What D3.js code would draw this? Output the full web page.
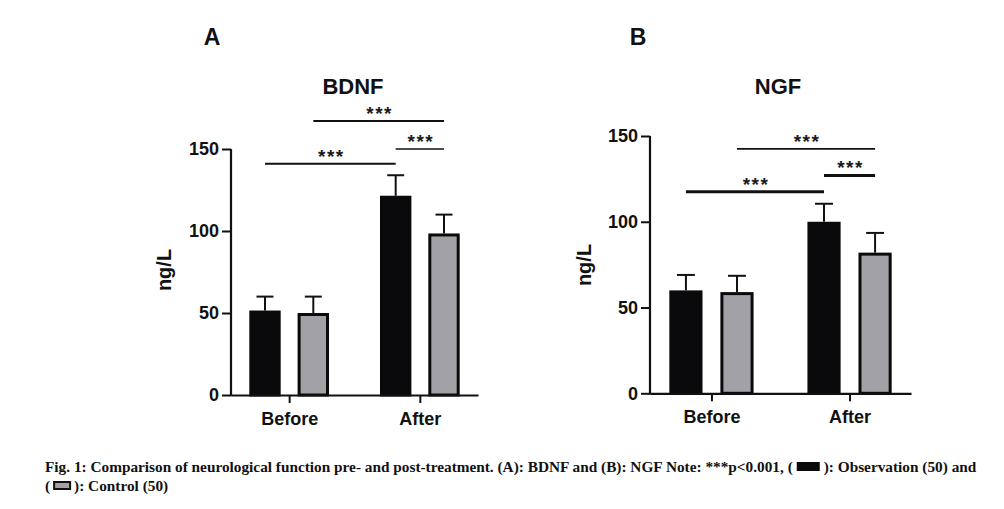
<!DOCTYPE html>
<html lang="en">
<head>
<meta charset="UTF-8">
<title>BDNF and NGF</title>
<script src="https://d3js.org/d3.v7.min.js"></script>
<style>
    body { margin: 0; background: #fff; }
    svg text { font-family: "Liberation Sans", Arial, sans-serif; font-weight: bold; }
    svg text.caption { font-family: "Liberation Serif", "Times New Roman", serif; }
</style>
</head>
<body>
<svg id="fig" width="1004" height="509"></svg>
<script>
// data
const categories = ["Before", "After"];
const groups = ["Observation", "Control"];
const yTicks = [0, 50, 100, 150];

const bdnfObs = [51.5, 121.5];
const bdnfObsSD = [8.5, 12.5];
const bdnfCtrl = [50, 98.5];
const bdnfCtrlSD = [10, 11.5];

const ngfObs = [60, 100];
const ngfObsSD = [9, 10.5];
const ngfCtrl = [59, 82];
const ngfCtrlSD = [9.5, 11.5];

// significance brackets: [category, group] -> [category, group] at a y value
const bdnfSig = [
    { from: ["Before", "Observation"], to: ["After", "Observation"], y: 141, w: 2 },
    { from: ["Before", "Control"], to: ["After", "Control"], y: 167, w: 2 },
    { from: ["After", "Observation"], to: ["After", "Control"], y: 150, w: 1.6 }
];
const ngfSig = [
    { from: ["Before", "Observation"], to: ["After", "Observation"], y: 117.5, w: 3 },
    { from: ["Before", "Control"], to: ["After", "Control"], y: 142.5, w: 1.8 },
    { from: ["After", "Observation"], to: ["After", "Control"], y: 127, w: 3 }
];

const fillColor = { Observation: "#0a0a0c", Control: "#a2a2a6" };

const svg = d3.select("#fig");

function drawPanel(p) {
    const g = svg.append("g");

    const x = d3.scalePoint().domain(categories).range([p.x0, p.x1]).padding(0.445);
    const groupW = x.step() * 0.61;
    const xs = d3.scaleBand().domain(groups).range([-groupW / 2, groupW / 2]).paddingInner(0.35);
    const y = d3.scaleLinear().domain([0, 150]).range([p.yBottom, p.yTop]);

    const rows = [];
    categories.forEach((c, i) => {
        rows.push({ cat: c, grp: "Observation", v: p.obs[i], sd: p.obsSD[i] });
        rows.push({ cat: c, grp: "Control", v: p.ctrl[i], sd: p.ctrlSD[i] });
    });
    const cx = (c, gr) => x(c) + xs(gr) + xs.bandwidth() / 2;

    // error bars (upper only)
    g.selectAll("line.err").data(rows).join("line")
        .attr("x1", d => cx(d.cat, d.grp)).attr("x2", d => cx(d.cat, d.grp))
        .attr("y1", d => y(d.v)).attr("y2", d => y(d.v + d.sd))
        .attr("stroke", "#111").attr("stroke-width", 2);
    g.selectAll("line.cap").data(rows).join("line")
        .attr("x1", d => cx(d.cat, d.grp) - xs.bandwidth() * 0.27)
        .attr("x2", d => cx(d.cat, d.grp) + xs.bandwidth() * 0.27)
        .attr("y1", d => y(d.v + d.sd)).attr("y2", d => y(d.v + d.sd))
        .attr("stroke", "#111").attr("stroke-width", 2);

    // bars
    g.selectAll("rect.bar").data(rows).join("rect")
        .attr("x", d => x(d.cat) + xs(d.grp) + 1.5)
        .attr("width", xs.bandwidth() - 3)
        .attr("y", d => y(d.v) + 1.5)
        .attr("height", d => y(0) - y(d.v) - 1.5)
        .attr("fill", d => fillColor[d.grp])
        .attr("stroke", "#0a0a0a").attr("stroke-width", 3);

    // axes
    const yAxis = g.append("g")
        .attr("transform", `translate(${p.x0},0)`)
        .call(d3.axisLeft(y).tickValues(yTicks).tickSize(9).tickPadding(3).tickSizeOuter(0));
    const xAxis = g.append("g")
        .attr("transform", `translate(0,${p.yBottom})`)
        .call(d3.axisBottom(x).tickSize(8).tickPadding(9).tickSizeOuter(0));
    [yAxis, xAxis].forEach(a => {
        a.select(".domain").attr("stroke", "#111").attr("stroke-width", 2.2);
        a.selectAll(".tick line").attr("stroke", "#111").attr("stroke-width", 2);
        a.selectAll(".tick text").attr("fill", "#111");
    });
    yAxis.selectAll(".tick text").attr("font-size", 18);
    xAxis.selectAll(".tick text").attr("font-size", 18);
    // close the corner of the two axis lines
    yAxis.select(".domain").attr("d", `M0,${y(150)}V${p.yBottom + 1.1}`);

    // significance brackets
    p.sig.forEach(s => {
        const xa = cx(s.from[0], s.from[1]);
        const xb = cx(s.to[0], s.to[1]);
        g.append("line")
            .attr("x1", xa).attr("x2", xb)
            .attr("y1", y(s.y)).attr("y2", y(s.y))
            .attr("stroke", "#111").attr("stroke-width", s.w);
        g.append("text")
            .attr("x", (xa + xb) / 2 + 1).attr("y", y(s.y) - 1)
            .attr("text-anchor", "middle")
            .attr("font-size", 19).attr("letter-spacing", 1.5)
            .attr("fill", "#1a1a1a")
            .text("***");
    });

    // titles and labels
    g.append("text").attr("x", p.letterX).attr("y", 45)
        .attr("text-anchor", "middle").attr("font-size", 23).attr("fill", "#111")
        .text(p.letter);
    g.append("text").attr("x", p.titleX).attr("y", 94)
        .attr("text-anchor", "middle").attr("font-size", 22).attr("fill", "#111")
        .text(p.title);
    g.append("text")
        .attr("transform", `translate(${p.ylabX},${p.ylabY}) rotate(-90)`)
        .attr("text-anchor", "middle").attr("font-size", 20).attr("fill", "#111")
        .text("ng/L");
}

drawPanel({
    letter: "A", letterX: 212, title: "BDNF", titleX: 353,
    x0: 231, x1: 478, yBottom: 395, yTop: 149,
    obs: bdnfObs, obsSD: bdnfObsSD, ctrl: bdnfCtrl, ctrlSD: bdnfCtrlSD,
    sig: bdnfSig, ylabX: 171, ylabY: 270
});
drawPanel({
    letter: "B", letterX: 638, title: "NGF", titleX: 778,
    x0: 650, x1: 911, yBottom: 393.3, yTop: 136,
    obs: ngfObs, obsSD: ngfObsSD, ctrl: ngfCtrl, ctrlSD: ngfCtrlSD,
    sig: ngfSig, ylabX: 591, ylabY: 265
});

// caption
const cap1a = "Fig. 1: Comparison of neurological function pre- and post-treatment. (A): BDNF and (B): NGF Note: ***p<0.001, (";
const cap1b = "): Observation (50) and";
const cap2a = "(";
const cap2b = "): Control (50)";
const capSize = 15.3;

function captionLine(y, a, b, icon) {
    const t1 = svg.append("text").attr("class", "caption")
        .attr("x", 45).attr("y", y).attr("font-size", capSize).attr("fill", "#111").text(a);
    const w1 = t1.node().getComputedTextLength();
    const ix = 45 + w1 + 4;
    svg.append("rect")
        .attr("x", ix).attr("y", y - 10 + (icon.inset || 0))
        .attr("width", icon.w).attr("height", icon.h)
        .attr("fill", icon.fill).attr("stroke", "#111").attr("stroke-width", icon.sw);
    svg.append("text").attr("class", "caption")
        .attr("x", ix + icon.w + 4).attr("y", y).attr("font-size", capSize).attr("fill", "#111").text(b);
}
captionLine(472, cap1a, cap1b, { w: 23, h: 9, fill: "#0a0a0a", sw: 0 });
captionLine(491, cap2a, cap2b, { w: 16, h: 7, fill: "#a2a2a6", sw: 2, inset: 1 });
</script>
</body>
</html>
